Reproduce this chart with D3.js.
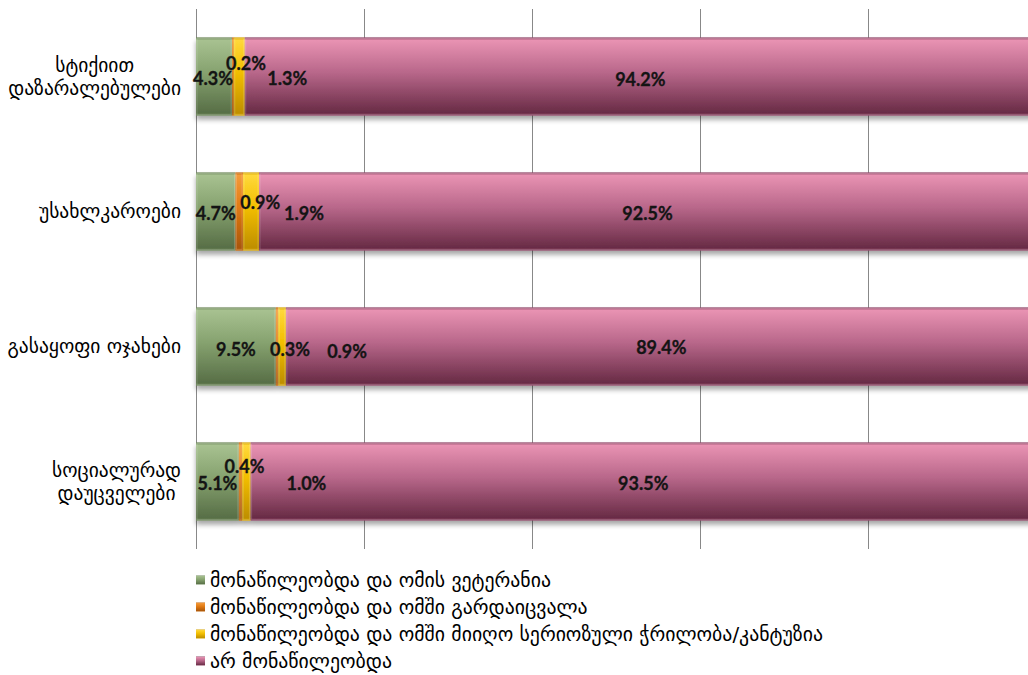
<!DOCTYPE html>
<html><head><meta charset="utf-8">
<script src="https://cdn.jsdelivr.net/npm/d3@7"></script>
<style>
html,body{margin:0;padding:0;background:#fff;}
svg{display:block;}
</style></head>
<body>
<svg id="chart" width="1028" height="675"></svg>
<script>
// ---- data ----
const categories = ["სტიქიით დაზარალებულები", "უსახლკაროები", "გასაყოფი ოჯახები", "სოციალურად დაუცველები"];
const categoryLines = [["სტიქიით","დაზარალებულები"],["უსახლკაროები"],["გასაყოფი ოჯახები"],["სოციალურად","დაუცველები"]];
const seriesNames = [
  "მონაწილეობდა და ომის ვეტერანია",
  "მონაწილეობდა და ომში გარდაიცვალა",
  "მონაწილეობდა და ომში მიიღო სერიოზული ჭრილობა/კანტუზია",
  "არ მონაწილეობდა"
];
const veteran   = [4.3, 4.7, 9.5, 5.1];
const died      = [0.2, 0.9, 0.3, 0.4];
const wounded   = [1.3, 1.9, 0.9, 1.0];
const notPart   = [94.2, 92.5, 89.4, 93.5];
const xTicks = [0, 20, 40, 60, 80, 100];

// ---- layout / style (not data) ----
const seriesValues = [veteran, died, wounded, notPart];
const colors = [
  {top:"#a7c190", mid:"#86a26f", bot:"#586f47", edge:"#6d8759"},
  {top:"#f39a3a", mid:"#e07a14", bot:"#a9560a", edge:"#c0650d"},
  {top:"#ffd83a", mid:"#f2be00", bot:"#bf8f00", edge:"#d4a300"},
  {top:"#e892b2", mid:"#b8678a", bot:"#692c46", edge:"#8d4564"}
];
// label nudges [dx, dy] relative to segment centre, per category per series
const labelNudge = [
  [[-1,1],[13,-14],[48,1],[0,2]],
  [[0,1.5],[21,-10],[53,1.5],[0,1]],
  [[0,2.5],[13,2.5],[65,4],[0,0.5]],
  [[0,1],[4,-16],[60,1],[0,1]]
];

const svg = d3.select("#chart");
const x = d3.scaleLinear().domain([0,100]).range([196,1036]);
const y = d3.scaleBand().domain(categories).range([9,549]).paddingInner(0.42).paddingOuter(0.21);

const defs = svg.append("defs");
colors.forEach((c,i)=>{
  const g = defs.append("linearGradient").attr("id","g"+i).attr("x1",0).attr("y1",0).attr("x2",0).attr("y2",1);
  g.append("stop").attr("offset","0%").attr("stop-color",c.edge);
  g.append("stop").attr("offset","4%").attr("stop-color",c.top);
  g.append("stop").attr("offset","45%").attr("stop-color",c.mid);
  g.append("stop").attr("offset","96%").attr("stop-color",c.bot);
  g.append("stop").attr("offset","100%").attr("stop-color",c.edge);
});
const f = defs.append("filter").attr("id","shadow").attr("x","-5%").attr("y","-20%").attr("width","110%").attr("height","160%");
f.append("feDropShadow").attr("dx",0).attr("dy",4).attr("stdDeviation",2.5).attr("flood-color","#000").attr("flood-opacity",0.35);

// gridlines
const grid = svg.append("g").attr("class","grid");
grid.selectAll("line").data(xTicks).join("line")
  .attr("x1",d=>Math.round(x(d))+0.5).attr("x2",d=>Math.round(x(d))+0.5)
  .attr("y1",9).attr("y2",549)
  .attr("stroke","#888").attr("stroke-width",1);

// stacked data
const stackData = categories.map((c,ci)=>{
  let acc = 0;
  return seriesValues.map((arr,si)=>{
    const v = arr[ci]; const s = {cat:c, ci, si, x0:acc, x1:acc+v, v}; acc += v; return s;
  });
});

const barsG = svg.append("g");
stackData.forEach(row=>{
  const g = barsG.append("g").attr("filter","url(#shadow)");
  g.selectAll("rect").data(row).join("rect")
    .attr("x",d=>x(d.x0)).attr("width",d=>x(d.x1)-x(d.x0))
    .attr("y",d=>y(d.cat)).attr("height",y.bandwidth())
    .attr("fill",d=>"url(#g"+d.si+")");
  g.selectAll("rect.b").data(row).join("rect").attr("class","b")
    .attr("x",d=>x(d.x0)+1).attr("width",d=>Math.max(0,x(d.x1)-x(d.x0)-2))
    .attr("y",d=>y(d.cat)+1).attr("height",y.bandwidth()-2)
    .attr("fill","none").attr("stroke","rgba(255,255,255,0.18)").attr("stroke-width",1);
});

// data labels
const lab = svg.append("g");
stackData.forEach(row=>{
  lab.selectAll(null).data(row).join("text")
    .attr("x",d=>(x(d.x0)+x(d.x1))/2 + labelNudge[d.ci][d.si][0])
    .attr("y",d=>y(d.cat)+y.bandwidth()/2 + labelNudge[d.ci][d.si][1])
    .attr("text-anchor","middle").attr("dominant-baseline","central")
    .attr("font-family","Lato, 'Open Sans', sans-serif").attr("font-weight",700).attr("font-size",18)
    .attr("fill","#141414").attr("stroke","#141414").attr("stroke-width",0.3)
    .text(d=>d.v.toFixed(1)+"%");
});

// category labels
const catG = svg.append("g");
categories.forEach((c,ci)=>{
  const lines = categoryLines[ci];
  const cy = y(c)+y.bandwidth()/2;
  const lh = 23;
  const t = catG.append("text")
    .attr("font-family","'DejaVu Sans', sans-serif").attr("font-size",19.5).attr("fill","#000")
    .attr("text-anchor","middle");
  lines.forEach((ln,li)=>{
    t.append("tspan").attr("x",0).attr("y",cy + (li-(lines.length-1)/2)*lh).attr("dominant-baseline","central").text(ln);
  });
  const w = d3.max(t.selectAll("tspan").nodes(), n=>n.getComputedTextLength());
  t.selectAll("tspan").attr("x", 181 - w/2);
});

// legend
const leg = svg.append("g");
const legY0 = 580, legStep = 27;
seriesNames.forEach((n,i)=>{
  const yy = legY0 + i*legStep;
  leg.append("rect").attr("x",196).attr("y",yy-4.5).attr("width",9).attr("height",9).attr("fill","url(#g"+i+")");
  leg.append("text").attr("x",210).attr("y",yy).attr("dominant-baseline","central")
    .attr("font-family","'DejaVu Sans', sans-serif").attr("font-size",19.8).attr("fill","#000").text(n);
});
</script>
</body></html>
